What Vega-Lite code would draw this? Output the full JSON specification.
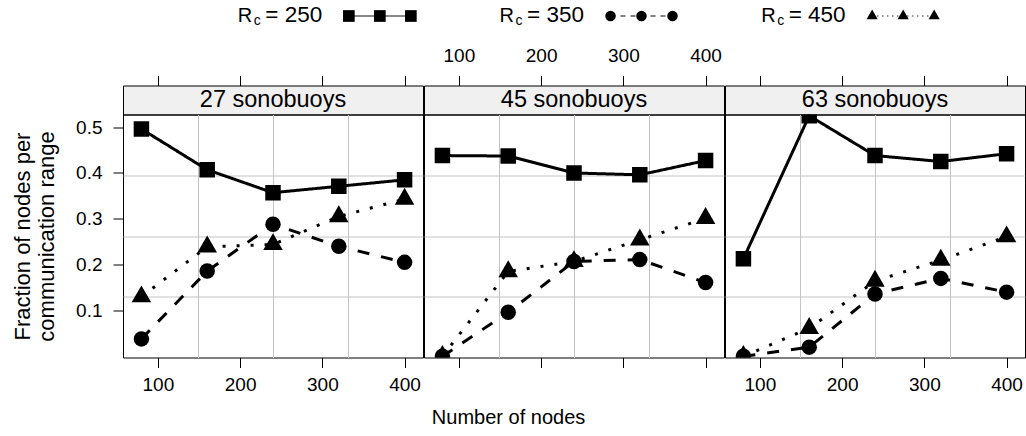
{
  "$schema": "https://vega.github.io/schema/vega-lite/v6.json",
  "padding": {"left": 11, "top": 1, "right": 0, "bottom": 0},
  "config": {
    "font": "Liberation Sans",
    "view": {"stroke": null},
    "axis": {
      "labelFont": "Liberation Sans", "titleFont": "Liberation Sans",
      "labelColor": "#000", "titleColor": "#000", "tickColor": "#000",
      "titleFontWeight": "normal", "domain": false, "grid": false,
      "labelFlush": false, "labelOverlap": false, "tickWidth": 1
    },
    "text": {"font": "Liberation Sans", "color": "#000"}
  },
  "datasets": {
    "fractions": [
      {"panel": "27 sonobuoys", "rc": "250", "nodes": 80, "fraction": 0.496},
      {"panel": "27 sonobuoys", "rc": "250", "nodes": 160, "fraction": 0.407},
      {"panel": "27 sonobuoys", "rc": "250", "nodes": 240, "fraction": 0.357},
      {"panel": "27 sonobuoys", "rc": "250", "nodes": 320, "fraction": 0.371},
      {"panel": "27 sonobuoys", "rc": "250", "nodes": 400, "fraction": 0.385},
      {"panel": "27 sonobuoys", "rc": "350", "nodes": 80, "fraction": 0.038},
      {"panel": "27 sonobuoys", "rc": "350", "nodes": 160, "fraction": 0.186},
      {"panel": "27 sonobuoys", "rc": "350", "nodes": 240, "fraction": 0.288},
      {"panel": "27 sonobuoys", "rc": "350", "nodes": 320, "fraction": 0.240},
      {"panel": "27 sonobuoys", "rc": "350", "nodes": 400, "fraction": 0.205},
      {"panel": "27 sonobuoys", "rc": "450", "nodes": 80, "fraction": 0.130},
      {"panel": "27 sonobuoys", "rc": "450", "nodes": 160, "fraction": 0.239},
      {"panel": "27 sonobuoys", "rc": "450", "nodes": 240, "fraction": 0.244},
      {"panel": "27 sonobuoys", "rc": "450", "nodes": 320, "fraction": 0.305},
      {"panel": "27 sonobuoys", "rc": "450", "nodes": 400, "fraction": 0.343},
      {"panel": "45 sonobuoys", "rc": "250", "nodes": 80, "fraction": 0.438},
      {"panel": "45 sonobuoys", "rc": "250", "nodes": 160, "fraction": 0.437},
      {"panel": "45 sonobuoys", "rc": "250", "nodes": 240, "fraction": 0.400},
      {"panel": "45 sonobuoys", "rc": "250", "nodes": 320, "fraction": 0.396},
      {"panel": "45 sonobuoys", "rc": "250", "nodes": 400, "fraction": 0.427},
      {"panel": "45 sonobuoys", "rc": "350", "nodes": 80, "fraction": 0.000},
      {"panel": "45 sonobuoys", "rc": "350", "nodes": 160, "fraction": 0.096},
      {"panel": "45 sonobuoys", "rc": "350", "nodes": 240, "fraction": 0.207},
      {"panel": "45 sonobuoys", "rc": "350", "nodes": 320, "fraction": 0.211},
      {"panel": "45 sonobuoys", "rc": "350", "nodes": 400, "fraction": 0.161},
      {"panel": "45 sonobuoys", "rc": "450", "nodes": 80, "fraction": 0.000},
      {"panel": "45 sonobuoys", "rc": "450", "nodes": 160, "fraction": 0.185},
      {"panel": "45 sonobuoys", "rc": "450", "nodes": 240, "fraction": 0.207},
      {"panel": "45 sonobuoys", "rc": "450", "nodes": 320, "fraction": 0.254},
      {"panel": "45 sonobuoys", "rc": "450", "nodes": 400, "fraction": 0.301},
      {"panel": "63 sonobuoys", "rc": "250", "nodes": 80, "fraction": 0.213},
      {"panel": "63 sonobuoys", "rc": "250", "nodes": 160, "fraction": 0.525},
      {"panel": "63 sonobuoys", "rc": "250", "nodes": 240, "fraction": 0.438},
      {"panel": "63 sonobuoys", "rc": "250", "nodes": 320, "fraction": 0.425},
      {"panel": "63 sonobuoys", "rc": "250", "nodes": 400, "fraction": 0.442},
      {"panel": "63 sonobuoys", "rc": "350", "nodes": 80, "fraction": 0.000},
      {"panel": "63 sonobuoys", "rc": "350", "nodes": 160, "fraction": 0.020},
      {"panel": "63 sonobuoys", "rc": "350", "nodes": 240, "fraction": 0.136},
      {"panel": "63 sonobuoys", "rc": "350", "nodes": 320, "fraction": 0.170},
      {"panel": "63 sonobuoys", "rc": "350", "nodes": 400, "fraction": 0.140},
      {"panel": "63 sonobuoys", "rc": "450", "nodes": 80, "fraction": 0.000},
      {"panel": "63 sonobuoys", "rc": "450", "nodes": 160, "fraction": 0.061},
      {"panel": "63 sonobuoys", "rc": "450", "nodes": 240, "fraction": 0.164},
      {"panel": "63 sonobuoys", "rc": "450", "nodes": 320, "fraction": 0.210},
      {"panel": "63 sonobuoys", "rc": "450", "nodes": 400, "fraction": 0.261}
    ],
    "strips": [
      {"panel": "27 sonobuoys"},
      {"panel": "45 sonobuoys"},
      {"panel": "63 sonobuoys"}
    ],
    "legendItems": [
      {"rc": "250", "label": "= 250"},
      {"rc": "350", "label": "= 350"},
      {"rc": "450", "label": "= 450"}
    ]
  },
  "resolve": {"scale": {"size": "independent", "strokeDash": "independent", "shape": "independent", "x": "independent", "y": "independent"}},
  "spacing": 14.5,
  "vconcat": [
    {
      "width": 785,
      "height": 30,
      "data": {"name": "legendItems"},
      "encoding": {
        "x": {"field": "rc", "type": "nominal", "scale": {"type": "point", "padding": 0.5, "domain": ["250", "350", "450"]}, "axis": null}
      },
      "layer": [
        {
          "mark": {"type": "rule", "color": "#000", "strokeWidth": 1, "xOffset": 95, "x2Offset": 157},
          "encoding": {
            "x2": {"field": "rc"},
            "strokeDash": {"field": "rc", "type": "nominal", "scale": {"domain": ["250", "350", "450"], "range": [[1, 0], [5, 5], [1.2, 3.8]]}, "legend": null}
          }
        },
        {
          "mark": {"type": "point", "filled": true, "color": "#000", "opacity": 1, "strokeWidth": 0, "xOffset": 95},
          "encoding": {
            "shape": {"field": "rc", "type": "nominal", "scale": {"domain": ["250", "350", "450"], "range": ["square", "circle", "M0,-1L0.866,0.5L-0.866,0.5Z"]}, "legend": null},
            "size": {"field": "rc", "type": "nominal", "scale": {"type": "ordinal", "domain": ["250", "350", "450"], "range": [137, 110, 165]}, "legend": null}
          }
        },
        {
          "mark": {"type": "point", "filled": true, "color": "#000", "opacity": 1, "strokeWidth": 0, "xOffset": 126},
          "encoding": {
            "shape": {"field": "rc", "type": "nominal", "scale": {"domain": ["250", "350", "450"], "range": ["square", "circle", "M0,-1L0.866,0.5L-0.866,0.5Z"]}, "legend": null},
            "size": {"field": "rc", "type": "nominal", "scale": {"type": "ordinal", "domain": ["250", "350", "450"], "range": [137, 110, 165]}, "legend": null}
          }
        },
        {
          "mark": {"type": "point", "filled": true, "color": "#000", "opacity": 1, "strokeWidth": 0, "xOffset": 157},
          "encoding": {
            "shape": {"field": "rc", "type": "nominal", "scale": {"domain": ["250", "350", "450"], "range": ["square", "circle", "M0,-1L0.866,0.5L-0.866,0.5Z"]}, "legend": null},
            "size": {"field": "rc", "type": "nominal", "scale": {"type": "ordinal", "domain": ["250", "350", "450"], "range": [137, 110, 165]}, "legend": null}
          }
        },
        {"mark": {"type": "text", "text": "R", "align": "left", "baseline": "alphabetic", "fontSize": 20, "xOffset": -16, "yOffset": 6}},
        {"mark": {"type": "text", "text": "c", "align": "left", "baseline": "alphabetic", "fontSize": 14, "xOffset": 0, "yOffset": 9}},
        {
          "mark": {"type": "text", "align": "left", "baseline": "alphabetic", "fontSize": 22.5, "xOffset": 11.5, "yOffset": 6},
          "encoding": {"text": {"field": "label"}}
        }
      ]
    },
    {
      "title": {"text": "Number of nodes", "orient": "bottom", "anchor": "middle", "fontSize": 20, "fontWeight": "normal", "font": "Liberation Sans", "color": "#000", "offset": 13, "dx": -15},
      "hconcat": [
        {
          "vconcat": [
            {
              "width": 300, "height": 29,
              "data": {"name": "strips"},
              "transform": [{"filter": {"field": "panel", "equal": "27 sonobuoys"}}],
              "view": {"fill": "#f0f0f0", "stroke": "#000", "strokeWidth": 1},
              "mark": {"type": "text", "fontSize": 23.5, "baseline": "middle"},
              "encoding": {
                "text": {"field": "panel"},
                "x": {"datum": 240, "type": "quantitative", "scale": {"domain": [57.6, 422.4], "nice": false, "zero": false},
                      "axis": {"orient": "top", "values": [100, 200, 300, 400], "tickSize": 10, "labels": false, "title": null}}
              }
            },
            {
              "width": 300, "height": 243,
              "data": {"name": "fractions"},
              "transform": [{"filter": {"field": "panel", "equal": "27 sonobuoys"}}],
              "view": {"stroke": "#000", "strokeWidth": 1},
              "layer": [
                {
                  "mark": {"type": "line", "color": "#000", "strokeWidth": 3, "clip": true},
                  "encoding": {
                    "x": {"field": "nodes", "type": "quantitative", "scale": {"domain": [57.6, 422.4], "nice": false, "zero": false},
                          "axis": {"orient": "bottom", "values": [100, 200, 300, 400], "tickSize": 10, "labelFontSize": 19, "labelPadding": 8, "title": null}},
                    "y": {"field": "fraction", "type": "quantitative", "scale": {"domain": [-0.0026, 0.5276], "nice": false, "zero": false},
                          "axis": {"orient": "left", "values": [0.1, 0.2, 0.3, 0.4, 0.5], "format": ".1f", "tickSize": 10, "labelFontSize": 19, "labelPadding": 11,
                                   "title": ["Fraction of nodes per", "communication range"], "titleFontSize": 22, "titleLineHeight": 24, "titlePadding": 17}},
                    "strokeDash": {"field": "rc", "type": "nominal", "scale": {"domain": ["250", "350", "450"], "range": [[1, 0], [12, 12], [3, 11]]}, "legend": null}
                  }
                },
                {
                  "mark": {"type": "point", "filled": true, "color": "#000", "opacity": 1, "strokeWidth": 0, "clip": true},
                  "encoding": {
                    "x": {"field": "nodes", "type": "quantitative",
                          "axis": {"orient": "top", "values": [148.8, 240, 331.2], "grid": true, "gridColor": "#c4c4c4", "gridWidth": 1, "ticks": false, "labels": false, "title": null}},
                    "y": {"field": "fraction", "type": "quantitative",
                          "axis": {"orient": "right", "values": [0.12995, 0.2625, 0.39505], "grid": true, "gridColor": "#c4c4c4", "gridWidth": 1, "ticks": false, "labels": false, "title": null}},
                    "shape": {"field": "rc", "type": "nominal", "scale": {"domain": ["250", "350", "450"], "range": ["square", "circle", "M0,-1L0.866,0.5L-0.866,0.5Z"]}, "legend": null},
                    "size": {"field": "rc", "type": "nominal", "scale": {"type": "ordinal", "domain": ["250", "350", "450"], "range": [240, 240, 510]}, "legend": null}
                  }
                }
              ],
              "resolve": {"axis": {"x": "independent", "y": "independent"}}
            }
          ],
          "spacing": 0,
          "bounds": "flush"
        },
        {
          "vconcat": [
            {
              "width": 300, "height": 29,
              "data": {"name": "strips"},
              "transform": [{"filter": {"field": "panel", "equal": "45 sonobuoys"}}],
              "view": {"fill": "#f0f0f0", "stroke": "#000", "strokeWidth": 1},
              "mark": {"type": "text", "fontSize": 23.5, "baseline": "middle"},
              "encoding": {
                "text": {"field": "panel"},
                "x": {"datum": 240, "type": "quantitative", "scale": {"domain": [57.6, 422.4], "nice": false, "zero": false},
                      "axis": {"orient": "top", "values": [100, 200, 300, 400], "tickSize": 10, "labelFontSize": 19, "labelPadding": 10, "title": null}}
              }
            },
            {
              "width": 300, "height": 243,
              "data": {"name": "fractions"},
              "transform": [{"filter": {"field": "panel", "equal": "45 sonobuoys"}}],
              "view": {"stroke": "#000", "strokeWidth": 1},
              "layer": [
                {
                  "mark": {"type": "line", "color": "#000", "strokeWidth": 3, "clip": true},
                  "encoding": {
                    "x": {"field": "nodes", "type": "quantitative", "scale": {"domain": [57.6, 422.4], "nice": false, "zero": false},
                          "axis": {"orient": "bottom", "values": [100, 200, 300, 400], "tickSize": 10, "labels": false, "title": null}},
                    "y": {"field": "fraction", "type": "quantitative", "scale": {"domain": [-0.0026, 0.5276], "nice": false, "zero": false}, "axis": null},
                    "strokeDash": {"field": "rc", "type": "nominal", "scale": {"domain": ["250", "350", "450"], "range": [[1, 0], [12, 12], [3, 11]]}, "legend": null}
                  }
                },
                {
                  "mark": {"type": "point", "filled": true, "color": "#000", "opacity": 1, "strokeWidth": 0, "clip": true},
                  "encoding": {
                    "x": {"field": "nodes", "type": "quantitative",
                          "axis": {"orient": "top", "values": [148.8, 240, 331.2], "grid": true, "gridColor": "#c4c4c4", "gridWidth": 1, "ticks": false, "labels": false, "title": null}},
                    "y": {"field": "fraction", "type": "quantitative",
                          "axis": {"orient": "right", "values": [0.12995, 0.2625, 0.39505], "grid": true, "gridColor": "#c4c4c4", "gridWidth": 1, "ticks": false, "labels": false, "title": null}},
                    "shape": {"field": "rc", "type": "nominal", "scale": {"domain": ["250", "350", "450"], "range": ["square", "circle", "M0,-1L0.866,0.5L-0.866,0.5Z"]}, "legend": null},
                    "size": {"field": "rc", "type": "nominal", "scale": {"type": "ordinal", "domain": ["250", "350", "450"], "range": [240, 240, 510]}, "legend": null}
                  }
                }
              ],
              "resolve": {"axis": {"x": "independent", "y": "independent"}}
            }
          ],
          "spacing": 0,
          "bounds": "flush"
        },
        {
          "vconcat": [
            {
              "width": 300, "height": 29,
              "data": {"name": "strips"},
              "transform": [{"filter": {"field": "panel", "equal": "63 sonobuoys"}}],
              "view": {"fill": "#f0f0f0", "stroke": "#000", "strokeWidth": 1},
              "mark": {"type": "text", "fontSize": 23.5, "baseline": "middle"},
              "encoding": {
                "text": {"field": "panel"},
                "x": {"datum": 240, "type": "quantitative", "scale": {"domain": [57.6, 422.4], "nice": false, "zero": false},
                      "axis": {"orient": "top", "values": [100, 200, 300, 400], "tickSize": 10, "labels": false, "title": null}}
              }
            },
            {
              "width": 300, "height": 243,
              "data": {"name": "fractions"},
              "transform": [{"filter": {"field": "panel", "equal": "63 sonobuoys"}}],
              "view": {"stroke": "#000", "strokeWidth": 1},
              "layer": [
                {
                  "mark": {"type": "line", "color": "#000", "strokeWidth": 3, "clip": true},
                  "encoding": {
                    "x": {"field": "nodes", "type": "quantitative", "scale": {"domain": [57.6, 422.4], "nice": false, "zero": false},
                          "axis": {"orient": "bottom", "values": [100, 200, 300, 400], "tickSize": 10, "labelFontSize": 19, "labelPadding": 8, "title": null}},
                    "y": {"field": "fraction", "type": "quantitative", "scale": {"domain": [-0.0026, 0.5276], "nice": false, "zero": false},
                          "axis": {"orient": "right", "values": [0.1, 0.2, 0.3, 0.4, 0.5], "tickSize": 10, "labels": false, "title": null}},
                    "strokeDash": {"field": "rc", "type": "nominal", "scale": {"domain": ["250", "350", "450"], "range": [[1, 0], [12, 12], [3, 11]]}, "legend": null}
                  }
                },
                {
                  "mark": {"type": "point", "filled": true, "color": "#000", "opacity": 1, "strokeWidth": 0, "clip": true},
                  "encoding": {
                    "x": {"field": "nodes", "type": "quantitative",
                          "axis": {"orient": "top", "values": [148.8, 240, 331.2], "grid": true, "gridColor": "#c4c4c4", "gridWidth": 1, "ticks": false, "labels": false, "title": null}},
                    "y": {"field": "fraction", "type": "quantitative",
                          "axis": {"orient": "left", "values": [0.12995, 0.2625, 0.39505], "grid": true, "gridColor": "#c4c4c4", "gridWidth": 1, "ticks": false, "labels": false, "title": null}},
                    "shape": {"field": "rc", "type": "nominal", "scale": {"domain": ["250", "350", "450"], "range": ["square", "circle", "M0,-1L0.866,0.5L-0.866,0.5Z"]}, "legend": null},
                    "size": {"field": "rc", "type": "nominal", "scale": {"type": "ordinal", "domain": ["250", "350", "450"], "range": [240, 240, 510]}, "legend": null}
                  }
                }
              ],
              "resolve": {"axis": {"x": "independent", "y": "independent"}}
            }
          ],
          "spacing": 0,
          "bounds": "flush"
        }
      ],
      "spacing": -1
    }
  ]
}
